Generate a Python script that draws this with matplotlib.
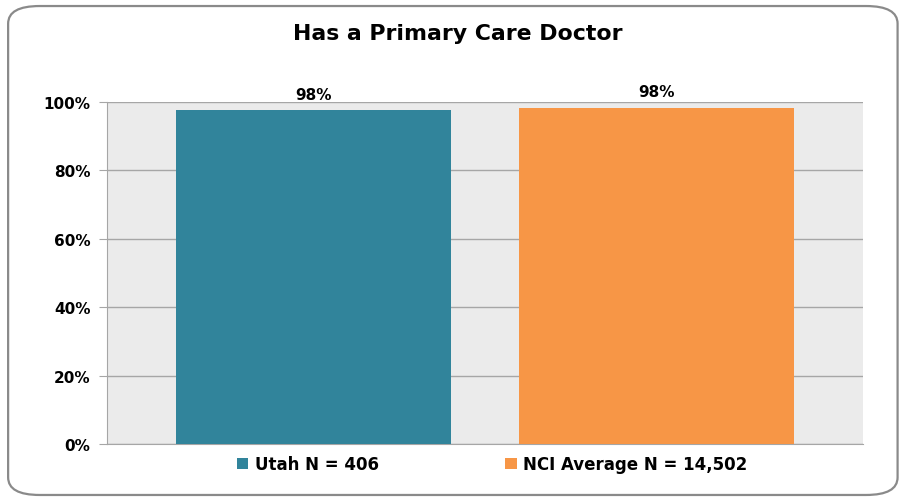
import matplotlib
matplotlib.use("Agg")
import matplotlib.pyplot as plt
from matplotlib.patches import FancyBboxPatch, Patch

categories = ["Utah N = 406", "NCI Average N = 14,502"]
values = [97.7, 98.3]
colors = ["#31849b", "#f79646"]
yticks = [0, 20, 40, 60, 80, 100]
title = "Has a Primary Care Doctor"

plt.rcParams["font.family"] = ["DejaVu Sans"]

fig = plt.figure(figsize=(9.03, 5.02), dpi=100)

# rounded outer frame
frame = FancyBboxPatch((0.009, 0.012), 0.985, 0.974,
                       boxstyle="round,pad=0,rounding_size=0.035",
                       transform=fig.transFigure, facecolor="white",
                       edgecolor="#8a8a8a", linewidth=1.6, zorder=0)
fig.patches.append(frame)

ax = fig.add_axes([0.1185, 0.1135, 0.8372, 0.6813])
ax.set_facecolor("#ebebeb")
ax.set_zorder(1)

x = list(range(len(categories)))
bars = ax.bar(x, values, width=0.8, color=colors, zorder=3)
ax.set_xlim(-0.6, 1.6)
ax.set_ylim(0, 100)
ax.set_yticks(yticks)
ax.set_yticklabels([f"{t}%" for t in yticks], fontsize=11, fontweight="bold")
ax.set_xticks([])
ax.yaxis.grid(True, color="#a6a6a6", linewidth=1.0, zorder=1)
ax.set_axisbelow(True)
ax.tick_params(axis="y", length=6, color="#a6a6a6", pad=6)

for side in ("top", "right"):
    ax.spines[side].set_visible(False)
for side in ("left", "bottom"):
    ax.spines[side].set_color("#a6a6a6")

for xi, v in zip(x, values):
    ax.annotate(f"{v:.0f}%", (xi, v), xytext=(0, 6), textcoords="offset points",
                ha="center", va="bottom", fontsize=11, fontweight="bold")

fig.text(0.507, 0.932, title, ha="center", va="center",
         fontsize=15.8, fontweight="bold")

handles = [Patch(facecolor=c, edgecolor="none") for c in colors]
fig.legend(handles, categories, loc="center", bbox_to_anchor=(0.545, 0.073),
           ncol=2, frameon=False, handlelength=0.7, handleheight=0.7,
           handletextpad=0.4, columnspacing=7.55,
           prop={"weight": "bold", "size": 12})

fig.savefig("out.png", dpi=100)
